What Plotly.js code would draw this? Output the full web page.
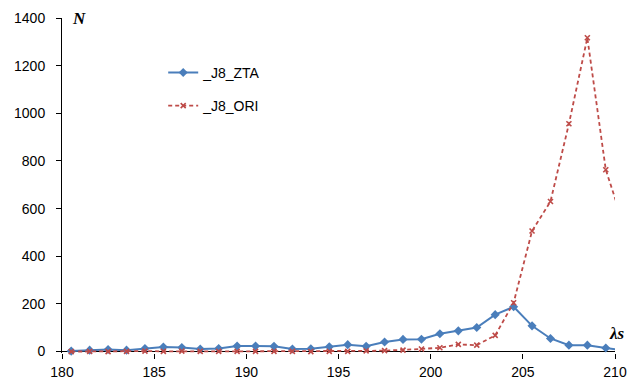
<!DOCTYPE html>
<html>
<head>
<meta charset="utf-8">
<script src="https://cdn.plot.ly/plotly-3.0.1.min.js"></script>
<style>html,body{margin:0;padding:0;background:#fff;}#chart{width:631px;height:383px;}</style>
</head>
<body>
<div id="chart"></div>
<script>
// lambda_s bins (bin centres); the last one lies just past the axis end and is clipped
const lambdaS = [180.5,181.5,182.5,183.5,184.5,185.5,186.5,187.5,188.5,189.5,190.5,191.5,192.5,193.5,194.5,195.5,196.5,197.5,198.5,199.5,200.5,201.5,202.5,203.5,204.5,205.5,206.5,207.5,208.5,209.5,210.5];
const zta = [2,6,9,6,13,19,17,11,13,23,23,22,11,12,20,29,22,40,51,52,75,87,101,155,188,108,55,27,27,15,5];
const ori = [0,1,0,1,2,1,2,1,1,1,1,1,1,0,1,1,3,4,6,11,16,30,27,68,205,506,630,956,1317,763,525];
const seriesNames = ['_J8_ZTA','_J8_ORI'];
const xTicks = [180,185,190,195,200,205,210];
const yTicks = [0,200,400,600,800,1000,1200,1400];

const tickFont = {family:'Liberation Sans, Arial, sans-serif', size:14, color:'#000'};

const traces = [
  {x:lambdaS, y:zta, name:seriesNames[0], type:'scatter', mode:'lines+markers',
   line:{color:'#4A7EBB', width:2}, marker:{symbol:'diamond', size:7, color:'#4A7EBB'},
   cliponaxis:false, legendgroup:'a'},
  {x:lambdaS, y:ori, name:seriesNames[1], type:'scatter', mode:'lines+markers',
   line:{color:'#BE4B48', width:1.8, dash:'4px,3px'}, marker:{symbol:'x-thin', size:5, color:'#BE4B48', line:{color:'#BE4B48', width:1.6}},
   cliponaxis:false, legendgroup:'b'}
];

const layout = {
  width:631, height:383,
  margin:{l:62, r:16, t:18, b:30},
  paper_bgcolor:'#fff', plot_bgcolor:'#fff',
  showlegend:true,
  legend:{x:0.183, y:0.884, xanchor:'left', yanchor:'top', bgcolor:'rgba(0,0,0,0)',
          font:{family:'Liberation Sans, Arial, sans-serif', size:14, color:'#000'},
          traceorder:'grouped', tracegroupgap:12},
  xaxis:{range:[180,210], tickvals:xTicks, ticktext:xTicks.map(String), showgrid:false, zeroline:false,
         showline:false, ticks:'outside', ticklen:5, tickcolor:'#000', tickwidth:1,
         tickfont:tickFont, ticklabelstandoff:1, fixedrange:true},
  yaxis:{range:[-6,1400], tickvals:yTicks, ticktext:yTicks.map(String), showgrid:false,
         zeroline:true, zerolinecolor:'#000', zerolinewidth:1,
         showline:true, linecolor:'#000', linewidth:1, ticks:'outside', ticklen:5, tickcolor:'#000', tickwidth:1,
         tickfont:tickFont, ticklabelstandoff:8, fixedrange:true},
  xaxis2:{overlaying:'x', anchor:'y', range:[180,210], tickvals:xTicks, showticklabels:false, showgrid:false,
          zeroline:false, showline:false, ticks:'inside', ticklen:6, tickcolor:'#000', tickwidth:1},
  yaxis2:{overlaying:'y', anchor:'x', range:[-6,1400], tickvals:yTicks, showticklabels:false, showgrid:false,
          zeroline:false, showline:false, ticks:'inside', ticklen:5, tickcolor:'#000', tickwidth:1},
  annotations:[
    {text:'<b><i>N</i></b>', xref:'paper', yref:'paper', x:0.031, y:1.0, xanchor:'center', yanchor:'middle',
     showarrow:false, font:{family:'Liberation Serif, Times New Roman, serif', size:17, color:'#000'}},
    {text:'<b><i>λs</i></b>', xref:'paper', yref:'paper', x:1.004, y:0.059, xanchor:'center', yanchor:'middle',
     showarrow:false, font:{family:'Liberation Serif, Times New Roman, serif', size:17, color:'#000'}}
  ]
};

Plotly.newPlot('chart', traces, layout, {staticPlot:true, displayModeBar:false});
</script>
</body>
</html>
